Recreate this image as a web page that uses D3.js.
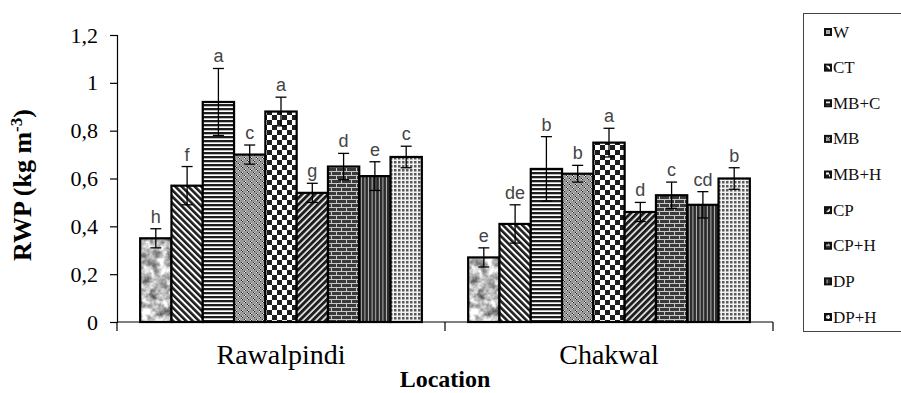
<!DOCTYPE html>
<html>
<head>
<meta charset="utf-8">
<script src="https://cdn.jsdelivr.net/npm/d3@7"></script>
<style>
  html, body { margin: 0; padding: 0; background: #fff; }
  svg { display: block; }
  .serif { font-family: "Liberation Serif", "Times New Roman", Tinos, "DejaVu Serif", serif; }
  .sans { font-family: "Liberation Sans", Arial, sans-serif; }
</style>
</head>
<body>
<svg id="chart" width="901" height="393"></svg>
<script>
// Relative water productivity by tillage / mulch treatment at two locations
const locations = ["Rawalpindi", "Chakwal"];
const treatments = ["W", "CT", "MB+C", "MB", "MB+H", "CP", "CP+H", "DP", "DP+H"];

const rwpRawalpindi = [0.35, 0.57, 0.92, 0.70, 0.88, 0.54, 0.65, 0.61, 0.69];
const errRawalpindi = [0.04, 0.08, 0.14, 0.04, 0.06, 0.04, 0.055, 0.06, 0.045];
const lettersRawalpindi = ["h", "f", "a", "c", "a", "g", "d", "e", "c"];

const rwpChakwal = [0.27, 0.41, 0.64, 0.62, 0.75, 0.46, 0.53, 0.49, 0.60];
const errChakwal = [0.04, 0.08, 0.135, 0.035, 0.06, 0.04, 0.055, 0.055, 0.045];
const lettersChakwal = ["e", "de", "b", "b", "a", "d", "c", "cd", "b"];

const yTickValues = [0, 0.2, 0.4, 0.6, 0.8, 1.0, 1.2];
const yTickLabels = ["0", "0,2", "0,4", "0,6", "0,8", "1", "1,2"];

const seriesByLocation = {
  "Rawalpindi": { values: rwpRawalpindi, errors: errRawalpindi, letters: lettersRawalpindi },
  "Chakwal": { values: rwpChakwal, errors: errChakwal, letters: lettersChakwal }
};

const svg = d3.select("#chart");

// ---- fill patterns -------------------------------------------------------
const defs = svg.append("defs");

// mottled grey (W)
const granite = defs.append("filter").attr("id", "granite")
  .attr("x", 0).attr("y", 0).attr("width", 1).attr("height", 1)
  .attr("color-interpolation-filters", "sRGB");
granite.append("feTurbulence").attr("type", "fractalNoise")
  .attr("baseFrequency", 0.12).attr("numOctaves", 3).attr("seed", 7);
granite.append("feColorMatrix").attr("type", "matrix")
  .attr("values", "1.25 0 0 0 0.1  1.25 0 0 0 0.1  1.25 0 0 0 0.1  0 0 0 0 1");
const pW = defs.append("pattern").attr("id", "pat-W")
  .attr("patternUnits", "userSpaceOnUse").attr("width", 200).attr("height", 200);
pW.append("rect").attr("width", 200).attr("height", 200).attr("fill", "#bbb")
  .attr("filter", "url(#granite)");

function stripes(id, period, dark, angle, darkColor, lightColor) {
  const p = defs.append("pattern").attr("id", id)
    .attr("patternUnits", "userSpaceOnUse")
    .attr("width", period).attr("height", period)
    .attr("patternTransform", `rotate(${angle})`);
  p.append("rect").attr("width", period).attr("height", period).attr("fill", lightColor);
  p.append("rect").attr("width", dark).attr("height", period).attr("fill", darkColor);
}
// CT: backward diagonal, CP: forward diagonal
stripes("pat-CT", 4.6, 2.6, -45, "#1e1e1e", "#fff");
stripes("pat-CP", 4.6, 3.0, 45, "#1e1e1e", "#f4f4f4");
// MB+C: horizontal lines
stripes("pat-MBC", 4, 2.3, 90, "#1e1e1e", "#fff");
// DP: vertical lines
stripes("pat-DP", 3.6, 2.6, 0, "#2a2a2a", "#b8b8b8");

// MB: grey with small dot clusters
const pMB = defs.append("pattern").attr("id", "pat-MB")
  .attr("patternUnits", "userSpaceOnUse").attr("width", 6).attr("height", 6);
pMB.append("rect").attr("width", 6).attr("height", 6).attr("fill", "#999");
[[1, 1, "#222"], [2, 2, "#222"], [2, 1, "#eee"], [1, 2, "#eee"],
 [4, 4, "#222"], [5, 5, "#222"], [5, 4, "#ddd"], [4, 5, "#ddd"]].forEach(([x, y, c]) =>
  pMB.append("rect").attr("x", x).attr("y", y).attr("width", 1).attr("height", 1).attr("fill", c));

// MB+H: checkerboard
const pMBH = defs.append("pattern").attr("id", "pat-MBH")
  .attr("patternUnits", "userSpaceOnUse").attr("width", 10).attr("height", 10);
pMBH.append("rect").attr("width", 10).attr("height", 10).attr("fill", "#fff");
pMBH.append("rect").attr("width", 5).attr("height", 5).attr("fill", "#1e1e1e");
pMBH.append("rect").attr("x", 5).attr("y", 5).attr("width", 5).attr("height", 5).attr("fill", "#1e1e1e");

// CP+H: brick
const pBrick = defs.append("pattern").attr("id", "pat-CPH")
  .attr("patternUnits", "userSpaceOnUse").attr("width", 10).attr("height", 8);
pBrick.append("rect").attr("width", 10).attr("height", 8).attr("fill", "#c8c8c8");
pBrick.append("rect").attr("x", 0).attr("y", 0).attr("width", 9).attr("height", 3).attr("fill", "#3a3a3a");
pBrick.append("rect").attr("x", 5).attr("y", 4).attr("width", 9).attr("height", 3).attr("fill", "#3a3a3a");
pBrick.append("rect").attr("x", -5).attr("y", 4).attr("width", 9).attr("height", 3).attr("fill", "#3a3a3a");

// DP+H: fine grid
const pGrid = defs.append("pattern").attr("id", "pat-DPH")
  .attr("patternUnits", "userSpaceOnUse").attr("width", 4).attr("height", 4);
pGrid.append("rect").attr("width", 4).attr("height", 4).attr("fill", "#f2f2f2");
pGrid.append("rect").attr("x", 1).attr("y", 1).attr("width", 2.5).attr("height", 2.5).attr("fill", "#5a5a5a");

const patternOf = {
  "W": "pat-W", "CT": "pat-CT", "MB+C": "pat-MBC", "MB": "pat-MB", "MB+H": "pat-MBH",
  "CP": "pat-CP", "CP+H": "pat-CPH", "DP": "pat-DP", "DP+H": "pat-DPH"
};

// ---- scales --------------------------------------------------------------
const x0 = d3.scaleBand().domain(locations).range([117, 773]).padding(0);
const x1 = d3.scaleBand().domain(treatments).range([0, x0.bandwidth()])
  .paddingInner(0).paddingOuter(0.74);
const y = d3.scaleLinear().domain([0, 1.2]).range([322, 35]);

// ---- axes ----------------------------------------------------------------
const yAxis = d3.axisLeft(y).tickValues(yTickValues)
  .tickFormat((d, i) => yTickLabels[i]).tickSize(7).tickPadding(12);
const gy = svg.append("g").attr("transform", "translate(117,0)").call(yAxis)
  .attr("font-family", null).attr("font-size", null);
gy.select(".domain").attr("stroke", "#000").attr("stroke-width", 1.2);
gy.selectAll(".tick line").attr("stroke", "#000").attr("stroke-width", 1.2);
gy.selectAll(".tick text").attr("class", "serif").attr("font-size", 22).attr("fill", "#000");

const xAxis = d3.axisBottom(x0).tickSize(0).tickFormat("");
const gx = svg.append("g").attr("transform", "translate(0,322)").call(xAxis);
gx.select(".domain").attr("d", "M117,0H773").attr("stroke", "#000").attr("stroke-width", 1.2);
gx.selectAll(".tick").remove();
// tick marks between categories
const boundaries = [x0.range()[0], ...locations.map(l => x0(l) + x0.bandwidth())];
gx.selectAll("line.sep").data(boundaries).join("line").attr("class", "sep")
  .attr("x1", d => d).attr("x2", d => d).attr("y1", 0).attr("y2", 9)
  .attr("stroke", "#000").attr("stroke-width", 1.2);

svg.append("g").selectAll("text").data(locations).join("text")
  .attr("class", "serif")
  .attr("x", d => x0(d) + x0.bandwidth() / 2).attr("y", 364)
  .attr("text-anchor", "middle").attr("font-size", 28)
  .text(d => d);

svg.append("text").attr("class", "serif").attr("x", 445).attr("y", 387).attr("text-anchor", "middle")
  .attr("font-size", 24).attr("font-weight", "bold")
  .text("Location");

const yl = svg.append("text").attr("class", "serif").attr("transform", "translate(31,185) rotate(-90)")
  .attr("text-anchor", "middle").attr("font-size", 26)
  .attr("font-weight", "bold");
yl.append("tspan").text("RWP (kg m");
yl.append("tspan").attr("dy", -9).attr("font-size", 17).text("-3");
yl.append("tspan").attr("dy", 9).text(")");

// ---- bars, error bars, letters -------------------------------------------
const groups = svg.append("g").selectAll("g").data(locations).join("g")
  .attr("transform", d => `translate(${x0(d)},0)`);

const rows = loc => treatments.map((t, i) => ({
  t, v: seriesByLocation[loc].values[i], e: seriesByLocation[loc].errors[i],
  letter: seriesByLocation[loc].letters[i]
}));

groups.selectAll("rect.bar").data(d => rows(d)).join("rect").attr("class", "bar")
  .attr("x", d => x1(d.t)).attr("width", x1.bandwidth())
  .attr("y", d => y(d.v)).attr("height", d => y(0) - y(d.v))
  .attr("fill", d => `url(#${patternOf[d.t]})`)
  .attr("stroke", "#000").attr("stroke-width", 2.2);

const cap = 5.5;
const eb = groups.selectAll("g.err").data(d => rows(d)).join("g").attr("class", "err")
  .attr("stroke", "#000").attr("stroke-width", 1.3);
eb.append("line")
  .attr("x1", d => x1(d.t) + x1.bandwidth() / 2).attr("x2", d => x1(d.t) + x1.bandwidth() / 2)
  .attr("y1", d => y(d.v + d.e)).attr("y2", d => y(d.v - d.e));
eb.append("line")
  .attr("x1", d => x1(d.t) + x1.bandwidth() / 2 - cap).attr("x2", d => x1(d.t) + x1.bandwidth() / 2 + cap)
  .attr("y1", d => y(d.v + d.e)).attr("y2", d => y(d.v + d.e));
eb.append("line")
  .attr("x1", d => x1(d.t) + x1.bandwidth() / 2 - cap).attr("x2", d => x1(d.t) + x1.bandwidth() / 2 + cap)
  .attr("y1", d => y(d.v - d.e)).attr("y2", d => y(d.v - d.e));

groups.selectAll("text.sig").data(d => rows(d)).join("text").attr("class", "sig sans")
  .attr("x", d => x1(d.t) + x1.bandwidth() / 2).attr("y", d => y(d.v + d.e) - 6)
  .attr("text-anchor", "middle").attr("font-size", 18)
  .attr("fill", "#444").text(d => d.letter);

// ---- legend --------------------------------------------------------------
const legend = svg.append("g");
legend.append("rect").attr("x", 803.5).attr("y", 13.5).attr("width", 110).attr("height", 318)
  .attr("fill", "#fff").attr("stroke", "#444").attr("stroke-width", 1);
const ly = d3.scalePoint().domain(treatments).range([32, 317]);
const li = legend.selectAll("g.item").data(treatments).join("g").attr("class", "item")
  .attr("transform", d => `translate(824,${ly(d)})`);
li.append("rect").attr("x", 0).attr("y", -4).attr("width", 8).attr("height", 8).attr("fill", "#111");
li.append("rect").attr("x", 2).attr("y", -2).attr("width", 4).attr("height", 4)
  .attr("fill", d => d === "W" ? "#aaa" : `url(#${patternOf[d]})`);
li.append("text").attr("class", "serif").attr("x", 9).attr("y", 5.5).attr("font-size", 17)
  .attr("fill", "#111").text(d => d);
</script>
</body>
</html>
